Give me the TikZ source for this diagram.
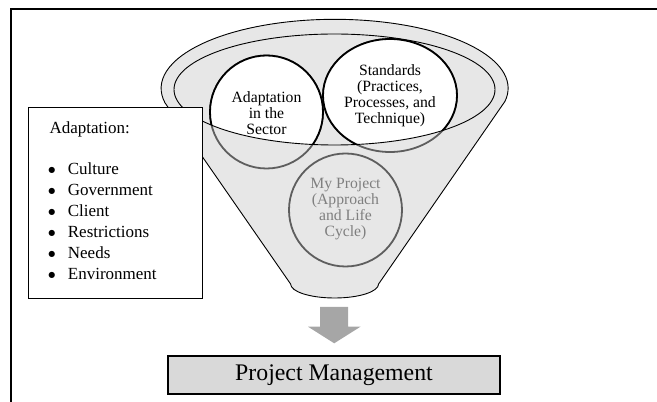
\documentclass[tikz,border=0pt]{standalone}
\usepackage{fontspec}
\setmainfont{Liberation Serif}
\newfontfamily\symfont{DejaVu Sans}
\definecolor{funnelgray}{HTML}{E7E7E7}
\definecolor{ringline}{HTML}{5E5E5E}
\definecolor{projtext}{HTML}{7F7F7F}
\definecolor{arrowgray}{HTML}{A6A6A6}
\definecolor{pmgray}{HTML}{D9D9D9}
\newsavebox\bulbox
\newcommand\mybullet{\sbox\bulbox{\symfont\fontsize{8}{9}\selectfont ●}%
  \smash{\raisebox{\dimexpr4.5pt-(\ht\bulbox-\dp\bulbox)/2\relax}{\usebox\bulbox}}}
\begin{document}
\begin{tikzpicture}[x=1pt,y=1pt,
  circtext/.style={align=center,inner sep=0pt,font=\fontsize{15.7}{16}\selectfont},
  listtext/.style={anchor=base west,inner sep=0pt,font=\fontsize{17}{21}\selectfont},
  ringpart/.style={ringline,line width=1.8pt},
  blackpart/.style={draw=black,fill=white,line width=1.8pt},
  thinline/.style={line width=0.9pt}
  ]
\useasboundingbox (0,0) rectangle (657,402);
% frame
\draw[line width=1.4pt] (657,393) -- (11,393) -- (11,0);
% funnel body
\draw[thinline,fill=funnelgray,line join=round]
  (504.97,300.65) arc[start angle=-10.9,end angle=192.2,x radius=173.5,y radius=69]
  -- (290.6,118) arc[start angle=180,end angle=360,x radius=44,y radius=14] -- cycle;
% circles, part outside the inner ellipse
\draw[ringpart] (266.5,290) circle[radius=56.5];
\draw[ringpart] (390,306.5) ellipse[x radius=67,y radius=56.5];
% part inside the inner ellipse
\begin{scope}
  \clip (334.5,312.5) ellipse[x radius=160.5,y radius=55.5];
  \draw[blackpart] (266.5,290) circle[radius=56.5];
  \draw[blackpart] (390,306.5) ellipse[x radius=67,y radius=56.5];
\end{scope}
\draw[thinline] (334.5,312.5) ellipse[x radius=160.5,y radius=55.5];
% My Project circle
\draw[ringpart] (345.5,192) circle[radius=56.5];
% circle texts
\node[circtext] (adapt) at (266.5,289) {Adaptation\\in the\\Sector};
\node[circtext] (std) at (390,306.5) {Standards\\(Practices,\\Processes, and\\Technique)};
\node[circtext,text=projtext] (myproj) at (345.5,193) {My Project\\(Approach\\and Life\\Cycle)};
% adaptation box
\node[draw,fill=white,line width=0.8pt,minimum width=173.5,minimum height=191.5,inner sep=0pt] (box) at (115.25,199.25) {};
\node[listtext] (head) at (49.4,268) {Adaptation:};
\foreach \t [count=\i] in {Culture,Government,Client,Restrictions,Needs,Environment} {
  \node[listtext] (item\i) at (51.7,248-21*\i) {\makebox[0pt][c]{\mybullet}\hspace{16pt}\t};
}
% block arrow
\fill[arrowgray] (320.2,95) -- (348.2,95) -- (348.2,75.3) -- (360.5,75.3) -- (334.2,58.7) -- (308,75.3) -- (320.2,75.3) -- cycle;
% project management box
\node[draw,fill=pmgray,line width=1.4pt,minimum width=332,minimum height=38,inner sep=0pt,font=\fontsize{23.8}{28}\selectfont] (pm) at (334,27) {Project Management};
\end{tikzpicture}
\end{document}
